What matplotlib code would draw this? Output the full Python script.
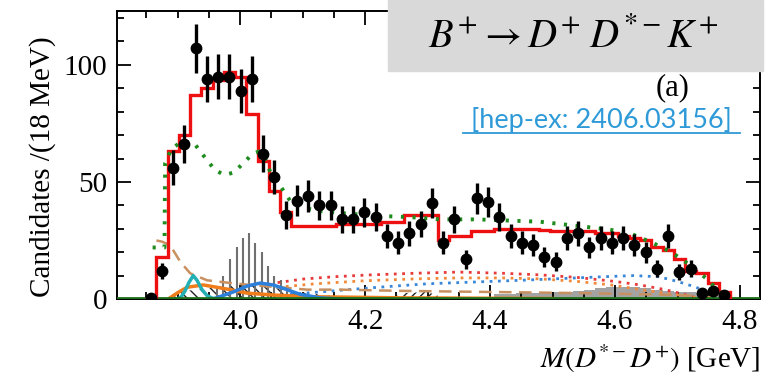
import numpy as np
import matplotlib.pyplot as plt
from matplotlib.ticker import MultipleLocator
from matplotlib.patches import Rectangle

plt.rcParams['font.family'] = ['Liberation Serif', 'DejaVu Serif']
plt.rcParams['mathtext.fontset'] = 'stix'

# 18 MeV bins starting at 3.848 GeV
bin_lo = 3.848
bin_w = 0.018
counts = [0.5, 12, 56, 66, 107, 94, 95, 95, 89, 94,
          62, 52, 36, 42, 44, 40, 40, 34, 34, 37,
          35, 27, 24, 28, 32, 41, 24, 34, 17, 43,
          41.5, 35, 27, 24, 23, 18, 16, 26, 28, 22,
          26, 24, 26, 23, 20, 13, 27, 11.5, 13, 2.6,
          3.4, 1.7]
fit = [0, 18, 63, 70, 87, 90, 93.6, 97, 95, 79,
       59, 46, 37, 31, 31, 31, 31, 32, 32, 32,
       32, 33, 33, 36, 36, 36, 25, 27, 27, 29,
       29, 30, 30, 30, 30, 29.5, 29, 29, 29, 29,
       28, 28, 27, 26, 25, 22, 21, 17, 12, 11,
       7, 3]

# smooth components (mass in GeV, candidates)
total_m = [3.860, 3.879, 3.880, 3.890, 3.905, 3.925, 3.945, 3.960, 3.975, 3.990,
           4.005, 4.020, 4.030, 4.040, 4.050, 4.065, 4.080, 4.100, 4.130, 4.170,
           4.220, 4.270, 4.320, 4.380, 4.430, 4.480, 4.530, 4.580, 4.620, 4.660,
           4.690, 4.720, 4.745, 4.760, 4.780]
total_y = [22, 22, 58, 64, 67, 67, 60, 55, 53, 54,
           58, 62, 63, 60, 53, 48, 42, 39, 37.5, 36.5,
           35.5, 35, 34, 34, 33.5, 33, 31.5, 30, 28.5, 24,
           20, 14.5, 9, 5, 0]

thr_m = [3.866, 3.875, 3.888, 3.904, 3.920, 3.947, 3.979, 4.016, 4.064, 4.107,
         4.160, 4.250, 4.400, 4.550, 4.650, 4.720, 4.780]
thr_y = [25, 24.5, 23, 16, 11, 8, 7, 6, 5, 4,
         4, 3.5, 3, 2.5, 2, 1.5, 0]

narrow_m = [3.900, 3.906, 3.912, 3.918, 3.925, 3.931, 3.939, 3.947, 3.955, 3.965]
narrow_y = [0, 1, 3.5, 7, 10, 8, 4, 1.5, 0.4, 0]

orange_m = [3.885, 3.899, 3.915, 3.941, 3.963, 3.984, 4.011, 4.053, 4.107, 4.256, 4.500]
orange_y = [0, 2.5, 5, 6, 5, 4, 2.5, 1.7, 1, 0.5, 0.2]

blue_m = [3.957, 3.989, 4.011, 4.032, 4.053, 4.075, 4.096, 4.128, 4.160]
blue_y = [0, 3, 5.5, 6.8, 6, 4, 2, 0.5, 0]

spike_m = [3.963, 3.973, 3.984, 3.995, 4.005, 4.014, 4.024, 4.035, 4.045, 4.054, 4.065, 4.075]
spike_y = [5, 10, 17, 22, 26, 28, 24, 20, 14, 10, 8, 4]

hatch_m = [3.890, 3.900, 3.930, 3.960, 3.990, 4.020, 4.050, 4.080, 4.110, 4.140, 4.170]
hatch_y = [0, 3, 4, 5, 6, 6, 5, 3.5, 2.5, 1.5, 0.5]
hatch2_m = [4.240, 4.260, 4.300, 4.320]
hatch2_y = [0.5, 2.5, 3, 1]

reddot_m = [4.06, 4.10, 4.15, 4.20, 4.28, 4.35, 4.42, 4.48, 4.54, 4.60, 4.64, 4.68, 4.71, 4.73, 4.745]
reddot_y = [7, 8.5, 9.5, 10.2, 11, 11.5, 11, 10.3, 9.2, 7.5, 6, 4, 2, 0.5, 0]
orgdot_m = [4.06, 4.12, 4.20, 4.28, 4.35, 4.42, 4.48, 4.54, 4.60, 4.64, 4.68, 4.72, 4.745]
orgdot_y = [5, 6.5, 7.8, 8.6, 9, 9, 8.6, 7.5, 5.8, 4, 2.5, 1, 0]
bludot_m = [4.08, 4.15, 4.22, 4.30, 4.38, 4.45, 4.52, 4.58, 4.63, 4.67, 4.70, 4.73, 4.75, 4.765]
bludot_y = [2, 3.5, 5, 6.5, 7.3, 8, 8.8, 9.5, 10, 9.5, 7.5, 5, 2.5, 0]

# gray background histogram, bins 31..51
gray_y = [2, 2, 2.5, 2.5, 2.5, 3, 3, 3.5, 4, 4.5, 5, 5, 5, 4.5, 4, 3.5, 3, 3, 2.5, 2.5, 2]

edges = bin_lo + bin_w * np.arange(len(fit) + 1)
centers = edges[:-1] + bin_w / 2

fig = plt.figure(figsize=(7.83, 3.76), dpi=100)
ax = fig.add_axes([117 / 783, 1 - 299 / 376, 643 / 783, 288 / 376])

ax.bar(centers[31:], gray_y, width=bin_w, color='#a3a3a3', lw=0, zorder=1)
ax.fill_between(hatch_m, hatch_y, color='none', edgecolor='#222222', hatch='\\\\\\', lw=0, zorder=2)
ax.fill_between(hatch2_m, hatch2_y, color='none', edgecolor='#222222', hatch='////', lw=0, zorder=2)
ax.vlines(spike_m, 0, spike_y, color='#707070', lw=1.5, zorder=2)
ax.plot(reddot_m, reddot_y, color='#e83a3a', lw=2, ls=(0, (1, 2)), zorder=3)
ax.plot(orgdot_m, orgdot_y, color='#f08a3a', lw=2, ls=(0, (1, 2)), zorder=3)
ax.plot(bludot_m, bludot_y, color='#3a86d8', lw=2, ls=(0, (1, 2)), zorder=3)
ax.plot(thr_m, thr_y, color='#c89060', lw=1.8, ls=(0, (5, 3)), zorder=3)
ax.plot(orange_m, orange_y, color='#f07d1a', lw=2.5, zorder=4)
ax.plot(narrow_m, narrow_y, color='#22b0b5', lw=2.5, zorder=4)
ax.plot(blue_m, blue_y, color='#2c7fda', lw=2.5, zorder=4)
ax.axhline(0.3, color='#1a6e1a', lw=2, zorder=4)
ax.stairs(fit, edges, color='#ee1010', lw=2.4, zorder=5)
ax.plot(total_m, total_y, color='#1e8c1e', lw=2.8, ls=(0, (0.8, 2.2)), zorder=6)
ax.errorbar(centers, counts, yerr=np.sqrt(counts), xerr=0.0045, fmt='o', color='black',
            ms=7.5, elinewidth=2.4, capsize=0, zorder=7)

ax.set_xlim(3.803, 4.832)
ax.set_ylim(0, 123)
ax.xaxis.set_major_locator(MultipleLocator(0.2))
ax.xaxis.set_minor_locator(MultipleLocator(0.05))
ax.yaxis.set_major_locator(MultipleLocator(50))
ax.yaxis.set_minor_locator(MultipleLocator(10))
ax.tick_params(which='both', direction='in', top=True, right=True, width=1.3, labelsize=21)
ax.tick_params(which='major', length=10, pad=7)
ax.tick_params(which='minor', length=5)
ax.xaxis.set_major_formatter(plt.FuncFormatter(lambda v, p: f'{v:.1f}'))
for s in ax.spines.values():
    s.set_linewidth(1.4)

ax.set_ylabel('Candidates /(18 MeV)', fontsize=21)
ax.yaxis.set_label_coords(-0.095, 0.46)
ax.set_xlabel(r'$M(D^{*-}D^{+})$ [GeV]', fontsize=21, loc='right')
ax.xaxis.set_label_coords(1.0, -0.15)

fig.patches.append(Rectangle((388 / 783, 1 - 71 / 376), 375 / 783, 71 / 376,
                             transform=fig.transFigure, color='#d9d9d9', zorder=8))
fig.text(573 / 783, 1 - 37 / 376, r'$B^{+}\rightarrow D^{+}\;D^{*-}K^{+}$', fontsize=29,
         ha='center', va='center', zorder=9)
fig.text(673 / 783, 1 - 88 / 376, '(a)', fontsize=22, ha='center', va='center', zorder=9)
fig.text(601 / 783, 1 - 120 / 376, '[hep-ex: 2406.03156]', fontsize=19.5, family='Lato',
         color='#2e9ad8', ha='center', va='center', zorder=9)
fig.lines.append(plt.Line2D([463 / 783, 740 / 783], [1 - 133 / 376, 1 - 133 / 376],
                            transform=fig.transFigure, color='#2e9ad8', lw=1.3, zorder=9))

fig.savefig('out.png', dpi=100)
